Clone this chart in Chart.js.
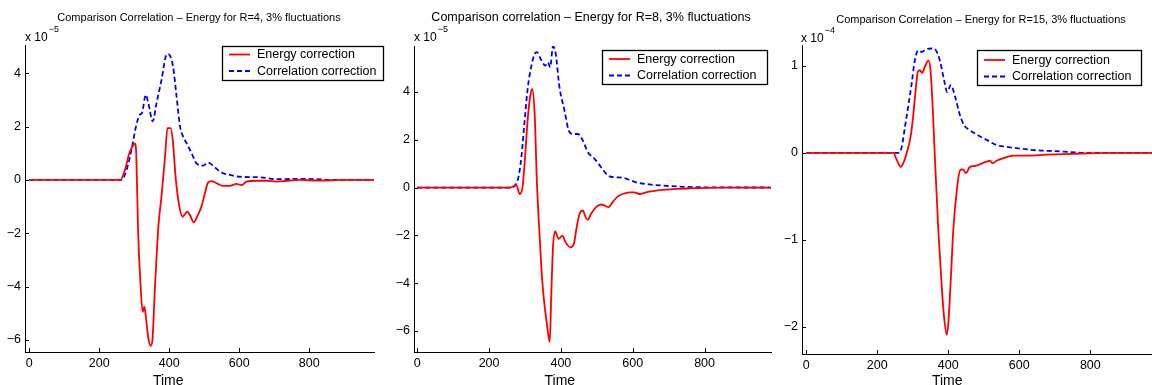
<!DOCTYPE html>
<html lang="en">
<head>
<meta charset="UTF-8" />
<title>Comparison Correlation – Energy</title>
<script src="https://cdn.jsdelivr.net/npm/chart.js"></script>
<style>
  body { margin: 0; background: #fff; width: 1152px; height: 385px; overflow: hidden; position: relative; }
  canvas { position: absolute; top: 0; }
</style>
</head>
<body>
<canvas id="c1" width="390" height="385" style="left:0px"></canvas>
<canvas id="c2" width="392" height="385" style="left:384px"></canvas>
<canvas id="c3" width="392" height="385" style="left:768px"></canvas>
<script>
// values; R=4 and R=8 in units of 1e-5, R=15 in units of 1e-4
const r4EnergyT = [0,260,273,286,297,302,306,311,318,324,329,333,340,347,352,359,369,378,388,395,404,410,419,429,438,444,452,461,470,480,492,502,511,521,535,554,573,592,607,621,650,678,707,735,773,830,900,985];
const r4EnergyV = [0,0,0.35,1.0,1.3,1.37,0.9,-1.9,-3.9,-4.95,-4.75,-5.1,-5.9,-6.22,-6.0,-4.1,-1.75,-0.6,0.87,1.94,1.94,1.5,0,-1.0,-1.37,-1.3,-1.19,-1.37,-1.59,-1.37,-1.0,-0.5,-0.1,-0.04,-0.12,-0.22,-0.22,-0.15,-0.19,-0.06,-0.03,-0.03,-0.06,-0.03,0,-0.02,0,0];
const r4CorrT = [0,264,278,292,305,316,322,333,340,353,364,378,392,397,411,421,431,440,450,464,478,497,511,525,545,573,602,659,707,773,821,869,985];
const r4CorrV = [0,0,0.37,1.12,2.0,2.45,2.5,3.19,2.9,2.2,2.9,3.75,4.69,4.72,4.25,3.12,2.0,1.62,1.37,1.0,0.62,0.54,0.65,0.54,0.31,0.19,0.12,0.1,0.03,0.04,0.03,0,0];

const r8EnergyT = [0,260,267,276,285,293,299,308,315,320,327,333,341,348,355,361,369,373,378,384,394,404,413,426,436,444,452,461,469,475,484,498,512,521,533,544,558,572,591,604,619,637,656,683,711,760,850,985];
const r8EnergyV = [0,0,0.05,0.1,-0.27,0,1.0,2.94,3.85,4.13,3.08,0.29,-2.08,-3.89,-5.0,-5.7,-6.47,-4.59,-2.5,-1.84,-2.15,-2.01,-2.29,-2.5,-2.36,-1.66,-1.1,-0.96,-1.24,-1.35,-1.1,-0.82,-0.71,-0.75,-0.82,-0.61,-0.38,-0.27,-0.2,-0.2,-0.27,-0.2,-0.15,-0.1,-0.07,-0.03,0,0];
const r8CorrT = [0,262,270,281,290,299,308,318,327,333,346,357,364,370,378,385,396,410,422,433,447,461,475,494,512,531,549,572,596,614,646,683,730,800,985];
const r8CorrV = [0,0,0.05,0.38,1.27,2.8,4.2,5.1,5.59,5.66,5.31,5.1,5.24,5.03,5.9,5.66,4.2,3.22,2.38,2.24,2.24,1.97,1.48,1.2,0.85,0.5,0.43,0.41,0.29,0.2,0.13,0.08,0.04,0.01,0];

const r15EnergyT = [0,245,255,266,275,285,294,301,308,314,320,326,334,344,350,356,363,372,381,388,396,400,407,414,424,433,441,450,461,475,489,508,517,525,536,555,583,621,677,750,850,985];
const r15EnergyV = [0,0,-0.08,-0.16,-0.1,0.03,0.19,0.42,0.72,0.93,0.95,0.92,0.99,1.06,0.95,0.53,-0.12,-0.89,-1.5,-1.88,-2.09,-1.96,-1.46,-0.89,-0.43,-0.2,-0.19,-0.23,-0.16,-0.15,-0.13,-0.1,-0.09,-0.12,-0.09,-0.06,-0.03,-0.03,-0.02,-0.01,0,0];
const r15CorrT = [0,260,269,278,287,297,306,316,325,337,353,365,377,388,397,407,419,431,444,461,485,508,536,565,602,649,705,800,985];
const r15CorrV = [0,0,0.07,0.3,0.53,0.8,1.07,1.18,1.16,1.19,1.2,1.18,1.05,0.84,0.7,0.78,0.65,0.46,0.32,0.26,0.2,0.15,0.09,0.07,0.05,0.03,0.02,0,0];

const timeTicks = [0, 200, 400, 600, 800];
const ticksE5 = [-6, -4, -2, 0, 2, 4];
const ticksE4 = [-2, -1, 0, 1];
const seriesNames = ['Energy correction', 'Correlation correction'];
const xLabel = 'Time';
const titles = [
  'Comparison Correlation \u2013 Energy for R=4, 3% fluctuations',
  'Comparison correlation \u2013 Energy for R=8, 3% fluctuations',
  'Comparison Correlation \u2013 Energy for R=15, 3% fluctuations'
];

const FONT = '"Liberation Sans", Arial, Helvetica, sans-serif';
const pts = (t, v) => t.map((x, i) => ({ x, y: v[i] }));

// figure decorations: inward ticks, title, exponent, x label, boxed legend
function decor(p) {
  return {
    id: 'decor',
    afterDraw(chart) {
      const { ctx, chartArea: a, scales } = chart;
      ctx.save();
      ctx.strokeStyle = '#000';
      ctx.lineWidth = 1;
      ctx.beginPath();
      scales.x.ticks.forEach(t => {
        const px = Math.round(scales.x.getPixelForValue(t.value)) + 0.5;
        ctx.moveTo(px, a.bottom); ctx.lineTo(px, a.bottom - 4);
      });
      scales.y.ticks.forEach(t => {
        const py = Math.round(scales.y.getPixelForValue(t.value)) + 0.5;
        ctx.moveTo(a.left, py); ctx.lineTo(a.left + 4, py);
      });
      ctx.stroke();

      ctx.fillStyle = '#000';
      ctx.font = p.titleSize + 'px ' + FONT;
      ctx.textAlign = 'center';
      ctx.textBaseline = 'middle';
      ctx.fillText(p.title, p.titleX, p.titleY);

      // x label sits under the middle of the tick range, as in the figure
      ctx.font = '14px ' + FONT;
      ctx.textBaseline = 'alphabetic';
      ctx.fillText(xLabel, scales.x.getPixelForValue(397), 385);

      ctx.textAlign = 'left';
      ctx.font = '12px ' + FONT;
      ctx.fillText('x 10', p.expX, p.expY);
      const w = ctx.measureText('x 10').width;
      ctx.font = '9px ' + FONT;
      ctx.fillText(p.exp, p.expX + w + 1, p.expY - 9);

      const L = p.legend;
      ctx.fillStyle = '#fff';
      ctx.fillRect(L.x, L.y, L.w, L.h);
      ctx.strokeStyle = '#000';
      ctx.lineWidth = 1.3;
      ctx.strokeRect(L.x + 0.5, L.y + 0.5, L.w, L.h);
      chart.data.datasets.forEach((ds, i) => {
        const y = L.y + L.row0 + i * 16.5;
        ctx.strokeStyle = ds.borderColor;
        ctx.lineWidth = ds.borderWidth;
        ctx.setLineDash(ds.borderDash || []);
        ctx.beginPath();
        ctx.moveTo(L.x + 7, y); ctx.lineTo(L.x + 28, y);
        ctx.stroke();
        ctx.setLineDash([]);
        ctx.fillStyle = '#000';
        ctx.font = '12.5px ' + FONT;
        ctx.textBaseline = 'middle';
        ctx.fillText(ds.label, L.x + 35, y + 0.5);
      });
      ctx.restore();
    }
  };
}

const panels = [
  { id: 'c1', energy: pts(r4EnergyT, r4EnergyV), corr: pts(r4CorrT, r4CorrV),
    yTicks: ticksE5, yMin: -6.45, yMax: 5.06, xMin: -12, yW: 25, padR: 16, top: 45, bottom: 352,
    title: titles[0], titleSize: 11, titleX: 199, titleY: 18, exp: '\u22125', expX: 25, expY: 41,
    legend: { x: 222, y: 46, w: 161, h: 34, row0: 8.5 } },
  { id: 'c2', energy: pts(r8EnergyT, r8EnergyV), corr: pts(r8CorrT, r8CorrV),
    yTicks: ticksE5, yMin: -6.88, yMax: 5.92, xMin: -9, yW: 30, padR: 5, top: 46, bottom: 352,
    title: titles[1], titleSize: 12.5, titleX: 207, titleY: 18, exp: '\u22125', expX: 30, expY: 41,
    legend: { x: 218, y: 50, w: 165, h: 34, row0: 9 } },
  { id: 'c3', energy: pts(r15EnergyT, r15EnergyV), corr: pts(r15CorrT, r15CorrV),
    yTicks: ticksE4, yMin: -2.31, yMax: 1.24, xMin: -12, yW: 34, padR: 4, top: 45, bottom: 354,
    title: titles[2], titleSize: 11, titleX: 213, titleY: 20, exp: '\u22124', expX: 33, expY: 42,
    legend: { x: 209, y: 50, w: 164, h: 35, row0: 10 } }
];

panels.forEach(p => {
  new Chart(document.getElementById(p.id), {
    type: 'line',
    data: {
      datasets: [
        { label: seriesNames[0], data: p.energy, borderColor: '#ff0000', borderWidth: 1.8,
          pointRadius: 0, cubicInterpolationMode: 'monotone', fill: false },
        { label: seriesNames[1], data: p.corr, borderColor: '#0000ff', borderWidth: 1.8,
          borderDash: [5, 3], pointRadius: 0, cubicInterpolationMode: 'monotone', fill: false }
      ]
    },
    options: {
      responsive: false,
      animation: false,
      layout: { padding: { left: 0, right: p.padR, top: p.top, bottom: 0 } },
      plugins: { legend: { display: false }, title: { display: false }, tooltip: { enabled: false } },
      scales: {
        x: {
          type: 'linear', min: p.xMin, max: 985,
          afterFit: s => { s.height = 385 - p.bottom; },
          afterBuildTicks: s => { s.ticks = timeTicks.map(v => ({ value: v })); },
          grid: { display: false, drawTicks: false },
          border: { display: true, color: '#000', width: 1 },
          ticks: { color: '#000', font: { family: FONT, size: 12.5 }, padding: 4, maxRotation: 0,
                   callback: v => String(v) }
        },
        y: {
          type: 'linear', min: p.yMin, max: p.yMax,
          afterFit: s => { s.width = p.yW; },
          afterBuildTicks: s => { s.ticks = p.yTicks.map(v => ({ value: v })); },
          grid: { display: false, drawTicks: false },
          border: { display: true, color: '#000', width: 1 },
          ticks: { color: '#000', font: { family: FONT, size: 12.5 }, padding: 4,
                   callback: v => (v < 0 ? '\u2212' + Math.abs(v) : String(v)) }
        }
      }
    },
    plugins: [decor(p)]
  });
});
</script>
</body>
</html>
